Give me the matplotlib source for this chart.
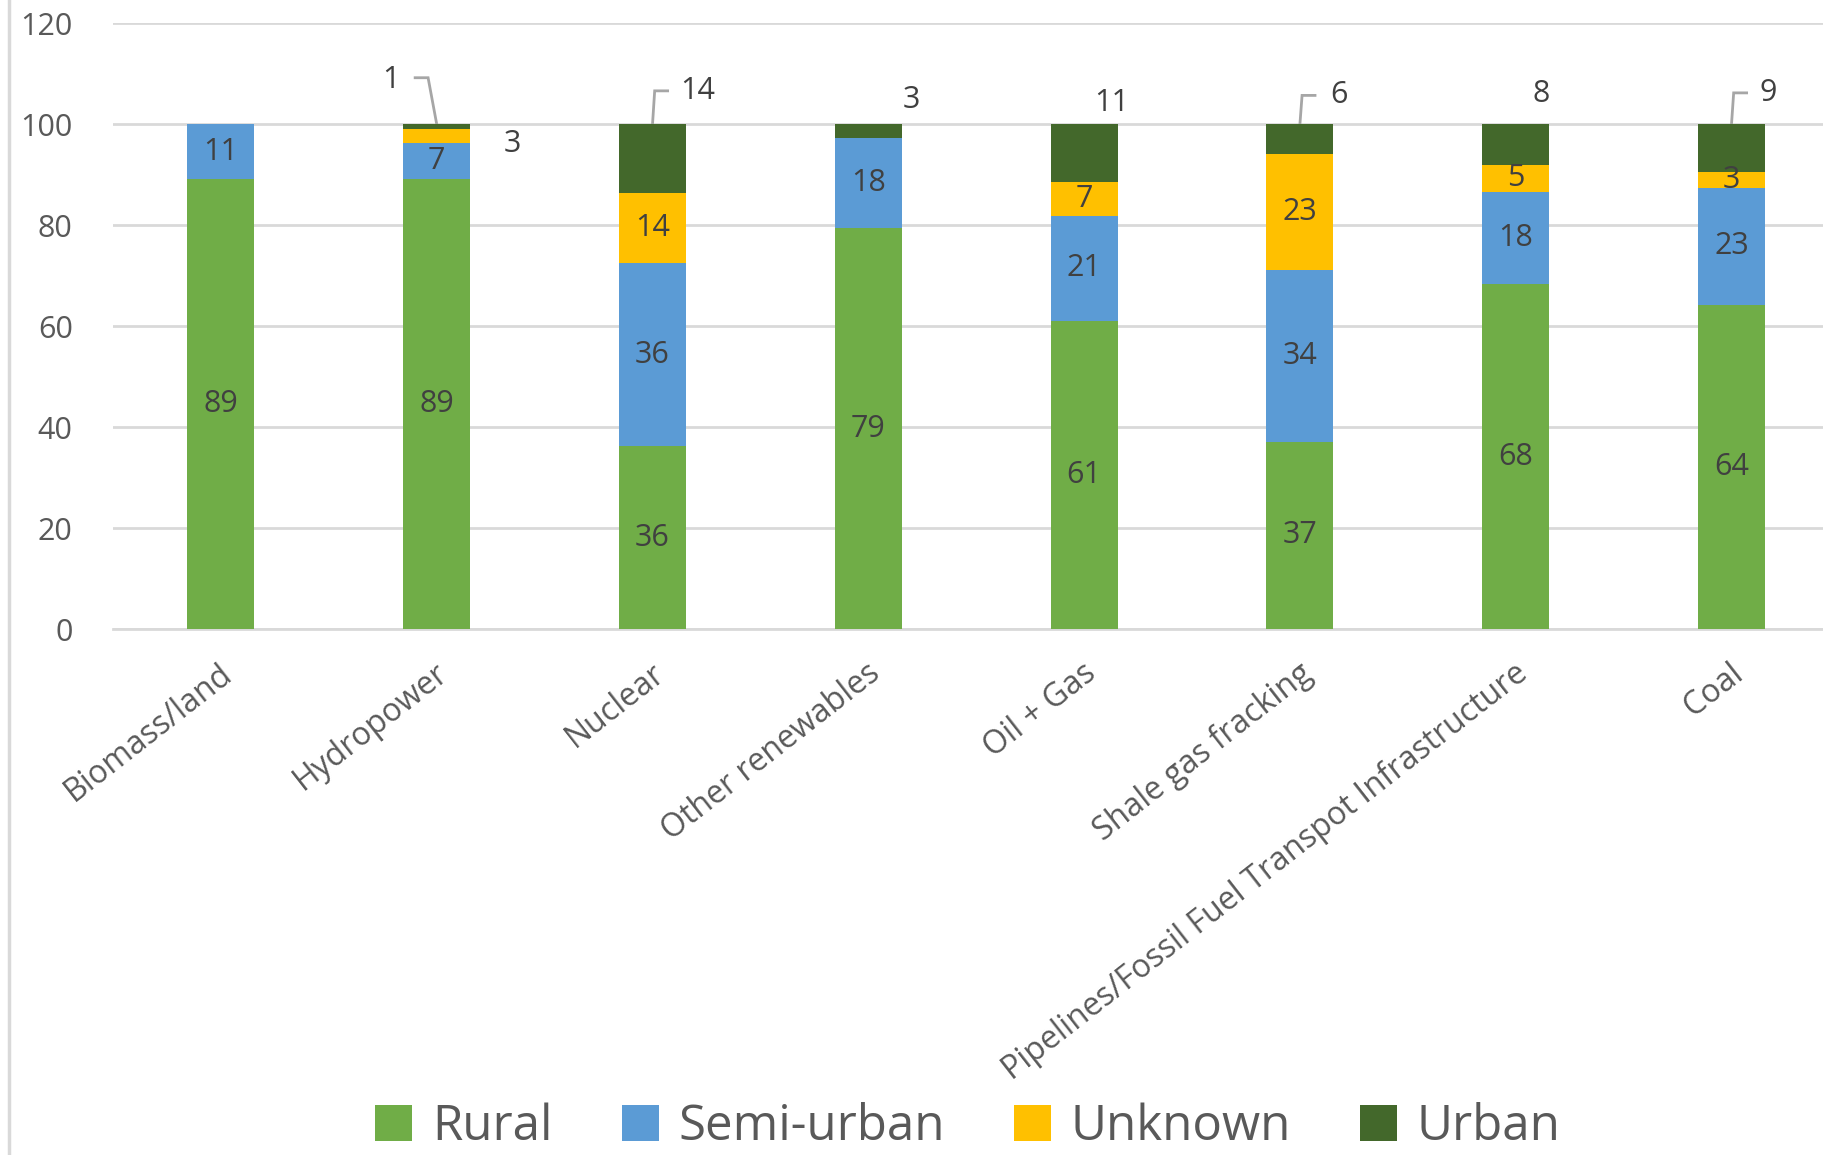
import matplotlib
matplotlib.use("Agg")
import matplotlib.pyplot as plt
import numpy as np
from matplotlib.lines import Line2D
from matplotlib.patches import Patch
from matplotlib.transforms import ScaledTranslation

plt.rcParams["font.family"] = ["Open Sans", "DejaVu Sans"]

categories = ["Biomass/land", "Hydropower", "Nuclear", "Other renewables",
              "Oil + Gas", "Shale gas fracking",
              "Pipelines/Fossil Fuel Transpot Infrastructure", "Coal"]
series_names = ["Rural", "Semi-urban", "Unknown", "Urban"]
rural = [89.1, 89.2, 36.2, 79.4, 61.1, 37.1, 68.3, 64.2]
semi_urban = [10.9, 7.0, 36.3, 17.8, 20.7, 34.1, 18.3, 23.2]
unknown = [0, 2.9, 13.8, 0, 6.8, 22.9, 5.3, 3.2]
urban = [0, 0.9, 13.7, 2.8, 11.4, 5.9, 8.1, 9.4]
colors = ["#70AD47", "#5B9BD5", "#FFC000", "#43682B"]

# labels placed outside the bars: (category index, value, label x, label y, leader?)
outside = [
    (1, urban[1], 0.79, 108.7, True),
    (1, unknown[1], 1.35, 96.0, False),
    (2, urban[2], 2.21, 106.6, True),
    (3, urban[3], 3.20, 104.8, False),
    (4, urban[4], 4.13, 104.1, False),
    (5, urban[5], 5.18, 105.7, True),
    (6, urban[6], 6.12, 105.9, False),
    (7, urban[7], 7.17, 106.2, True),
]

fig = plt.figure(figsize=(18.23, 11.55), dpi=100)
ax = fig.add_axes([0.062, 0.4554, 0.947, 0.5245])

x = np.arange(len(categories))
data = [rural, semi_urban, unknown, urban]
bottom = np.zeros(len(categories))
txt = "#404040"
for si, (vals, c) in enumerate(zip(data, colors)):
    vals = np.array(vals, dtype=float)
    ax.bar(x, vals, 0.31, bottom=bottom, color=c, zorder=3)
    if si < 3:
        for i, v in enumerate(vals):
            if v <= 0 or (si == 2 and i == 1):
                continue
            ax.text(i, bottom[i] + v / 2, f"{v:.0f}", ha="center", va="center",
                    fontsize=22, color=txt, zorder=4)
    bottom += vals

for i, v, lx, ly, leader in outside:
    ax.text(lx, ly, f"{v:.0f}", ha="center", va="center", fontsize=22, color=txt)
    if leader:
        if lx < i:
            xs = [lx + 0.11, lx + 0.17, i]
            ys = [ly + 0.5, ly + 0.5, 100]
        else:
            xs = [i, i + 0.01, i + 0.07]
            ys = [100, ly, ly]
        ax.plot(xs, ys, color="#A6A6A6", lw=2, solid_joinstyle="miter", zorder=2)

ax.set_xlim(-0.5, len(categories) - 0.5)
ax.set_ylim(0, 120)
ax.set_yticks(range(0, 121, 20))
ax.yaxis.grid(True, color="#D9D9D9", lw=2, zorder=0)
for s in ["left", "right", "top"]:
    ax.spines[s].set_visible(False)
ax.spines["bottom"].set_color("#D9D9D9")
ax.spines["bottom"].set_linewidth(2)
ax.tick_params(axis="y", length=0, pad=29, labelsize=22, labelcolor="#595959")
ax.tick_params(axis="x", length=0, pad=20, labelsize=23, labelcolor="#595959")
ax.set_xticks(x)
ax.set_xticklabels(categories, rotation=38, ha="right", va="top",
                   rotation_mode="anchor")
for lab in ax.get_xticklabels():
    lab.set_transform(lab.get_transform() + ScaledTranslation(-0.02, 0, fig.dpi_scale_trans))

fig.add_artist(Line2D([9 / 1823, 9 / 1823], [0, 1], color="#D9D9D9", lw=2.5))

handles = [Patch(facecolor=c, edgecolor="none") for c in colors]
fig.legend(handles, series_names, loc="center", bbox_to_anchor=(0.531, 0.024),
           ncol=4, frameon=False, fontsize=35.5, labelcolor="#595959",
           handlelength=0.75, handleheight=0.75, handletextpad=0.4,
           columnspacing=1.4, borderpad=0.1)

fig.savefig("out.png", dpi=100)
